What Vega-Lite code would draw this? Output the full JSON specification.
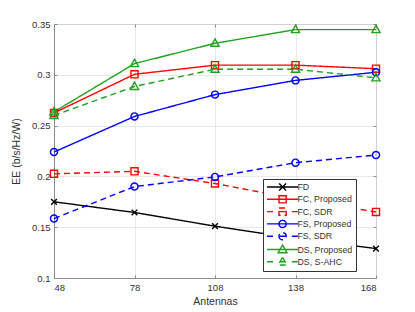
{
  "$schema": "https://vega.github.io/schema/vega-lite/v6.json",
  "width": 322,
  "height": 254,
  "autosize": {"type": "none"},
  "padding": {"left": 54, "top": 24, "right": 39, "bottom": 34},
  "background": "white",
  "config": {
    "view": {"stroke": "#8a8a8a", "strokeWidth": 1},
    "font": "Liberation Sans",
    "axis": {
      "labelFont": "Liberation Sans",
      "titleFont": "Liberation Sans",
      "labelColor": "#333333",
      "titleColor": "#333333",
      "labelFontSize": 9.5,
      "titleFontSize": 10.5,
      "titleFontWeight": "normal",
      "domainColor": "#8a8a8a",
      "tickColor": "#8a8a8a",
      "gridColor": "#e3e3e3",
      "gridWidth": 0.8
    }
  },
  "data": {
    "values": [
      {"series": "FD", "antennas": 48, "ee": 0.175},
      {"series": "FD", "antennas": 78, "ee": 0.1645},
      {"series": "FD", "antennas": 108, "ee": 0.151},
      {"series": "FD", "antennas": 138, "ee": 0.139},
      {"series": "FD", "antennas": 168, "ee": 0.129},
      {"series": "FC, Proposed", "antennas": 48, "ee": 0.2625},
      {"series": "FC, Proposed", "antennas": 78, "ee": 0.3005},
      {"series": "FC, Proposed", "antennas": 108, "ee": 0.3095},
      {"series": "FC, Proposed", "antennas": 138, "ee": 0.3095},
      {"series": "FC, Proposed", "antennas": 168, "ee": 0.306},
      {"series": "FC, SDR", "antennas": 48, "ee": 0.2025},
      {"series": "FC, SDR", "antennas": 78, "ee": 0.205},
      {"series": "FC, SDR", "antennas": 108, "ee": 0.193},
      {"series": "FC, SDR", "antennas": 138, "ee": 0.178},
      {"series": "FC, SDR", "antennas": 168, "ee": 0.165},
      {"series": "FS, Proposed", "antennas": 48, "ee": 0.224},
      {"series": "FS, Proposed", "antennas": 78, "ee": 0.259},
      {"series": "FS, Proposed", "antennas": 108, "ee": 0.2805},
      {"series": "FS, Proposed", "antennas": 138, "ee": 0.2945},
      {"series": "FS, Proposed", "antennas": 168, "ee": 0.3025},
      {"series": "FS, SDR", "antennas": 48, "ee": 0.1585},
      {"series": "FS, SDR", "antennas": 78, "ee": 0.19},
      {"series": "FS, SDR", "antennas": 108, "ee": 0.1995},
      {"series": "FS, SDR", "antennas": 138, "ee": 0.2135},
      {"series": "FS, SDR", "antennas": 168, "ee": 0.221},
      {"series": "DS, Proposed", "antennas": 48, "ee": 0.2635},
      {"series": "DS, Proposed", "antennas": 78, "ee": 0.311},
      {"series": "DS, Proposed", "antennas": 108, "ee": 0.331},
      {"series": "DS, Proposed", "antennas": 138, "ee": 0.3445},
      {"series": "DS, Proposed", "antennas": 168, "ee": 0.3445},
      {"series": "DS, S-AHC", "antennas": 48, "ee": 0.26},
      {"series": "DS, S-AHC", "antennas": 78, "ee": 0.2885},
      {"series": "DS, S-AHC", "antennas": 108, "ee": 0.3055},
      {"series": "DS, S-AHC", "antennas": 138, "ee": 0.3055},
      {"series": "DS, S-AHC", "antennas": 168, "ee": 0.297}
    ]
  },
  "layer": [
    {
      "mark": {"type": "line", "strokeWidth": 1.4},
      "encoding": {
        "x": {
          "field": "antennas", "type": "quantitative",
          "scale": {"domain": [48, 168], "nice": false, "zero": false},
          "axis": {"values": [48, 78, 108, 138, 168], "title": "Antennas", "tickSize": -3, "labelPadding": 7, "titlePadding": 5, "grid": true}
        },
        "y": {
          "field": "ee", "type": "quantitative",
          "scale": {"domain": [0.1, 0.35], "nice": false, "zero": false},
          "axis": {"values": [0.1, 0.15, 0.2, 0.25, 0.3, 0.35], "format": "~g", "title": "EE (b/s/Hz/W)", "tickSize": -3, "labelPadding": 7, "titlePadding": 10, "grid": true}
        },
        "color": {
          "field": "series", "type": "nominal",
          "scale": {
            "domain": ["FD", "FC, Proposed", "FC, SDR", "FS, Proposed", "FS, SDR", "DS, Proposed", "DS, S-AHC"],
            "range": ["#000000", "#ff0000", "#ff0000", "#0000ff", "#0000ff", "#22a022", "#22a022"]
          },
          "legend": {
            "title": null,
            "orient": "none",
            "legendX": 209,
            "legendY": 155,
            "padding": 3,
            "strokeColor": "#333333",
            "fillColor": "white",
            "symbolSize": 64,
            "symbolStrokeWidth": 1.4,
            "rowPadding": -1.7,
            "labelOffset": 21.5,
            "labelFont": "Liberation Sans",
            "labelFontSize": 8.8,
            "labelColor": "#333333",
            "encode": {
              "symbols": {
                "update": {
                  "fill": {"value": "transparent"},
                  "strokeDash": {"value": [1, 0]},
                  "shape": {"signal": "datum.value==='FD' ? 'M -1 0 L 6.75 0 M 2 -0.9 L 3.8 0.9 M 2 0.9 L 3.8 -0.9' : datum.value==='FC, Proposed' ? 'M -1 0 L 6.75 0 M 2 -0.9 L 3.8 -0.9 L 3.8 0.9 L 2 0.9 Z' : datum.value==='FC, SDR' ? 'M -1 0 L 0.6 0 M 2.2 0 L 3.6 0 M 5.2 0 L 6.75 0 M 2 -0.9 L 3.8 -0.9 L 3.8 0.9 L 2 0.9 Z' : datum.value==='FS, Proposed' ? 'M -1 0 L 6.75 0 M 2 0 A 0.9 0.9 0 1 0 3.8 0 A 0.9 0.9 0 1 0 2 0' : datum.value==='FS, SDR' ? 'M -1 0 L 0.6 0 M 2.2 0 L 3.6 0 M 5.2 0 L 6.75 0 M 2 0 A 0.9 0.9 0 1 0 3.8 0 A 0.9 0.9 0 1 0 2 0' : datum.value==='DS, Proposed' ? 'M -1 0 L 6.75 0 M 2.9 -1.1 L 4 0.8 L 1.8 0.8 Z' : 'M -1 0 L 0.6 0 M 2.2 0 L 3.6 0 M 5.2 0 L 6.75 0 M 2.9 -1.1 L 4 0.8 L 1.8 0.8 Z'"}
                }
              }
            }
          }
        },
        "strokeDash": {
          "field": "series", "type": "nominal",
          "scale": {
            "domain": ["FD", "FC, Proposed", "FC, SDR", "FS, Proposed", "FS, SDR", "DS, Proposed", "DS, S-AHC"],
            "range": [[1, 0], [1, 0], [6, 4], [1, 0], [6, 4], [1, 0], [6, 4]]
          },
          "legend": null
        }
      }
    },
    {
      "transform": [{"filter": {"field": "series", "equal": "FD"}}],
      "mark": {"type": "point", "filled": false, "strokeWidth": 1.4, "size": 40, "opacity": 1, "shape": "M -0.9 -0.9 L 0.9 0.9 M -0.9 0.9 L 0.9 -0.9", "stroke": "#000000"},
      "encoding": {
        "x": {"field": "antennas", "type": "quantitative", "axis": {"orient": "top", "values": [48, 78, 108, 138, 168], "labels": false, "title": null, "grid": false, "domain": false, "tickSize": -3}},
        "y": {"field": "ee", "type": "quantitative", "axis": {"orient": "right", "values": [0.1, 0.15, 0.2, 0.25, 0.3, 0.35], "labels": false, "title": null, "grid": false, "domain": false, "tickSize": -3}}
      }
    },
    {
      "transform": [{"filter": {"field": "series", "oneOf": ["FC, Proposed", "FC, SDR"]}}],
      "mark": {"type": "point", "filled": false, "strokeWidth": 1.4, "size": 50, "opacity": 1, "shape": "square", "stroke": "#ff0000"},
      "encoding": {
        "x": {"field": "antennas", "type": "quantitative", "axis": null},
        "y": {"field": "ee", "type": "quantitative", "axis": null}
      }
    },
    {
      "transform": [{"filter": {"field": "series", "oneOf": ["FS, Proposed", "FS, SDR"]}}],
      "mark": {"type": "point", "filled": false, "strokeWidth": 1.4, "size": 50, "opacity": 1, "shape": "circle", "stroke": "#0000ff"},
      "encoding": {
        "x": {"field": "antennas", "type": "quantitative", "axis": null},
        "y": {"field": "ee", "type": "quantitative", "axis": null}
      }
    },
    {
      "transform": [{"filter": {"field": "series", "oneOf": ["DS, Proposed", "DS, S-AHC"]}}],
      "mark": {"type": "point", "filled": false, "strokeWidth": 1.4, "size": 50, "opacity": 1, "shape": "M 0 -1.25 L 1.15 0.85 L -1.15 0.85 Z", "stroke": "#22a022"},
      "encoding": {
        "x": {"field": "antennas", "type": "quantitative", "axis": null},
        "y": {"field": "ee", "type": "quantitative", "axis": null}
      }
    }
  ],
  "resolve": {"axis": {"x": "independent", "y": "independent"}}
}
